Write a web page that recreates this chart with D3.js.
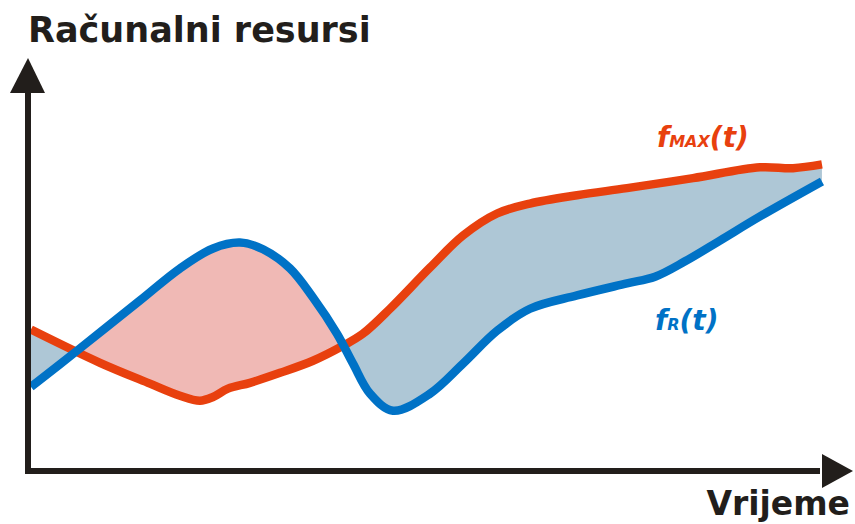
<!DOCTYPE html>
<html>
<head>
<meta charset="utf-8">
<script src="https://cdn.jsdelivr.net/npm/d3@7"></script>
<style>
  html, body { margin: 0; padding: 0; background: #fff; }
  svg { display: block; }
</style>
</head>
<body>
<div id="chart"></div>
<script>
// ---- Data (time t in 0..100, resources r in 0..100) ----
const fMaxT = [0.36, 8.76, 14.84, 18.49, 20.92, 22.51, 24.33, 27.01, 30.66, 34.67, 38.32, 40.75, 44.04, 48.91, 52.92, 57.06, 61.07, 66.79, 72.87, 80.90, 89.05, 93.07, 96.59];
const fMaxR = [34.0, 26.0, 21.0, 18.1, 16.9, 17.8, 19.8, 21.2, 23.6, 26.5, 30.1, 33.0, 39.0, 48.9, 56.6, 61.9, 64.3, 66.3, 68.0, 70.4, 73.0, 72.8, 73.7];

const fRT = [0.36, 5.96, 13.63, 18.49, 22.51, 25.79, 28.59, 31.87, 34.67, 37.59, 39.54, 41.61, 44.40, 48.91, 52.92, 57.06, 61.07, 66.79, 72.87, 76.28, 79.93, 84.18, 89.05, 96.59];
const fRR = [20.2, 28.9, 41.0, 48.7, 53.5, 54.9, 53.3, 48.7, 41.7, 33.0, 25.8, 18.6, 14.5, 18.6, 25.8, 33.7, 39.0, 42.2, 45.1, 46.7, 50.4, 55.4, 61.2, 69.6];

const yAxisTitle = "Računalni resursi";
const xAxisTitle = "Vrijeme";
const seriesNames = [{ main: "f", sub: "MAX", tail: "(t)" }, { main: "f", sub: "R", tail: "(t)" }];

const W = 855, H = 524;
const colors = { max: "#E8400E", r: "#0072C6", over: "#F0B9B5", under: "#AEC7D6", axis: "#221E1B" };

const x = d3.scaleLinear().domain([0, 100]).range([28, 850]);
const y = d3.scaleLinear().domain([0, 100]).range([471, 55]);

const maxData = fMaxT.map((t, i) => ({ t, r: fMaxR[i] }));
const rData = fRT.map((t, i) => ({ t, r: fRR[i] }));

const curve = d3.curveCatmullRom.alpha(0.5);
const svg = d3.select("#chart").append("svg").attr("width", W).attr("height", H);
const defs = svg.append("defs");

const yTop = y.range()[1] - 20, yBottom = y.range()[0];
const areaAbove = d3.area().curve(curve).x(d => x(d.t)).y0(yTop).y1(d => y(d.r));
const areaBelow = d3.area().curve(curve).x(d => x(d.t)).y0(yBottom).y1(d => y(d.r));
const line = d3.line().curve(curve).x(d => x(d.t)).y(d => y(d.r));

defs.append("clipPath").attr("id", "belowR").append("path").attr("d", areaBelow(rData));
defs.append("clipPath").attr("id", "belowMax").append("path").attr("d", areaBelow(maxData));

// Demand exceeds capacity (pink)
svg.append("path").attr("d", areaAbove(maxData)).attr("fill", colors.over).attr("clip-path", "url(#belowR)");
// Spare capacity (blue-grey)
svg.append("path").attr("d", areaAbove(rData)).attr("fill", colors.under).attr("clip-path", "url(#belowMax)");

svg.append("path").attr("d", line(maxData)).attr("fill", "none").attr("stroke", colors.max).attr("stroke-width", 8.5);
svg.append("path").attr("d", line(rData)).attr("fill", "none").attr("stroke", colors.r).attr("stroke-width", 8.5);

// Axes with arrows
const x0 = x.range()[0], x1 = x.range()[1], y0 = y.range()[0], y1 = y.range()[1];
const ax = svg.append("g").attr("fill", colors.axis).attr("stroke", colors.axis);
ax.append("line").attr("x1", x0).attr("y1", y0 + 3).attr("x2", x0).attr("y2", y1 + 30).attr("stroke-width", 6);
ax.append("path").attr("stroke", "none").attr("d", `M${x0},${y1 + 3} L${x0 - 18},${y1 + 38} L${x0 + 17},${y1 + 38} Z`);
ax.append("line").attr("x1", x0 - 3).attr("y1", y0).attr("x2", x1 - 30).attr("y2", y0).attr("stroke-width", 6);
ax.append("path").attr("stroke", "none").attr("d", `M${x1 + 3},${y0} L${x1 - 28},${y0 - 17} L${x1 - 28},${y0 + 17} Z`);

const font = "'DejaVu Sans', Verdana, sans-serif";
svg.append("text").attr("x", 28).attr("y", 42).attr("font-family", font).attr("font-weight", "bold")
  .attr("font-size", 35).attr("fill", colors.axis).text(yAxisTitle);
svg.append("text").attr("x", 850).attr("y", 515).attr("text-anchor", "end").attr("font-family", font).attr("font-weight", "bold")
  .attr("font-size", 33).attr("fill", colors.axis).text(xAxisTitle);

function label(pos, s, col) {
  const t = svg.append("text").attr("x", pos[0]).attr("y", pos[1]).attr("font-family", font)
    .attr("font-weight", "bold").attr("font-style", "italic").attr("fill", col).attr("font-size", 28);
  t.append("tspan").text(s.main);
  t.append("tspan").attr("font-size", 16).text(s.sub);
  t.append("tspan").text(s.tail);
}
label([657, 147], seriesNames[0], colors.max);
label([655, 330], seriesNames[1], colors.r);
</script>
</body>
</html>
